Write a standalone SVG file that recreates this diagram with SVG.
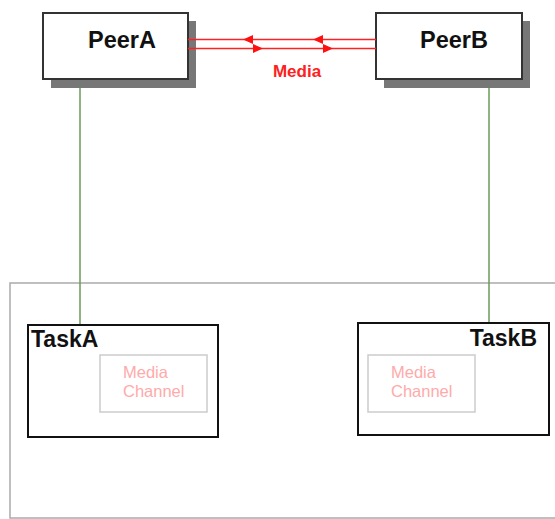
<svg xmlns="http://www.w3.org/2000/svg" width="555" height="519" viewBox="0 0 555 519">
<style>
.peer{fill:#fff;stroke:#333;stroke-width:2}
.shadow{fill:#777}
.ptxt{font-family:"Liberation Sans",Arial,sans-serif;font-weight:bold;font-size:23.5px;fill:#111}
.task{fill:#fff;stroke:#111;stroke-width:2}
.ttxt{font-family:"Liberation Sans",Arial,sans-serif;font-weight:bold;font-size:23px;fill:#111}
.chan{fill:#fff;stroke:#ccc;stroke-width:1.5}
.ctxt{font-family:"Liberation Sans",Arial,sans-serif;font-size:16.5px;fill:#ffaaaa}
.link{stroke:#6a9a5a;stroke-width:1.5;fill:none}
.media{stroke:#ff2020;stroke-width:1.6;fill:none}
.mtxt{font-family:"Liberation Sans",Arial,sans-serif;font-weight:bold;font-size:17px;fill:#ff2020}
</style>
<defs>
<polygon id="ahL" points="0,0 10,-4.5 10,4.5" fill="#ff1010"/>
<polygon id="ahR" points="0,0 -10,-4.5 -10,4.5" fill="#ff1010"/>
</defs>
<rect width="555" height="519" fill="#fff"/>
<g id="container">
<rect x="10" y="283" width="560" height="235" fill="none" stroke="#aaa" stroke-width="1.5"/>
</g>
<g id="connectors">
<line class="link" x1="80" y1="79" x2="80" y2="325"/>
<line class="link" x1="489" y1="79" x2="489" y2="323"/>
</g>
<g id="PeerA">
<rect class="shadow" x="51" y="21" width="145" height="67"/>
<rect class="peer" x="43" y="13" width="145" height="66"/>
<text class="ptxt" x="122" y="48" text-anchor="middle">PeerA</text>
</g>
<g id="PeerB">
<rect class="shadow" x="384" y="21" width="146" height="67"/>
<rect class="peer" x="376" y="13" width="146" height="66"/>
<text class="ptxt" x="454" y="48" text-anchor="middle">PeerB</text>
</g>
<g id="media">
<line class="media" x1="188" y1="39.5" x2="376" y2="39.5"/>
<line class="media" x1="188" y1="48.5" x2="376" y2="48.5"/>
<use href="#ahL" x="243" y="39.5"/>
<use href="#ahL" x="313" y="39.5"/>
<use href="#ahR" x="263" y="48.5"/>
<use href="#ahR" x="333" y="48.5"/>
<text class="mtxt" x="297" y="77" text-anchor="middle">Media</text>
</g>
<g id="TaskA">
<rect class="task" x="28" y="325" width="190" height="112"/>
<text class="ttxt" x="31" y="347">TaskA</text>
<g id="ChannelA">
<rect class="chan" x="100" y="355" width="107" height="57"/>
<text class="ctxt" x="123" y="377.5">Media</text>
<text class="ctxt" x="123" y="396.5">Channel</text>
</g>
</g>
<g id="TaskB">
<rect class="task" x="358" y="323" width="191" height="112"/>
<text class="ttxt" x="537" y="346" text-anchor="end">TaskB</text>
<g id="ChannelB">
<rect class="chan" x="368" y="355" width="107" height="57"/>
<text class="ctxt" x="391" y="377.5">Media</text>
<text class="ctxt" x="391" y="396.5">Channel</text>
</g>
</g>
</svg>
